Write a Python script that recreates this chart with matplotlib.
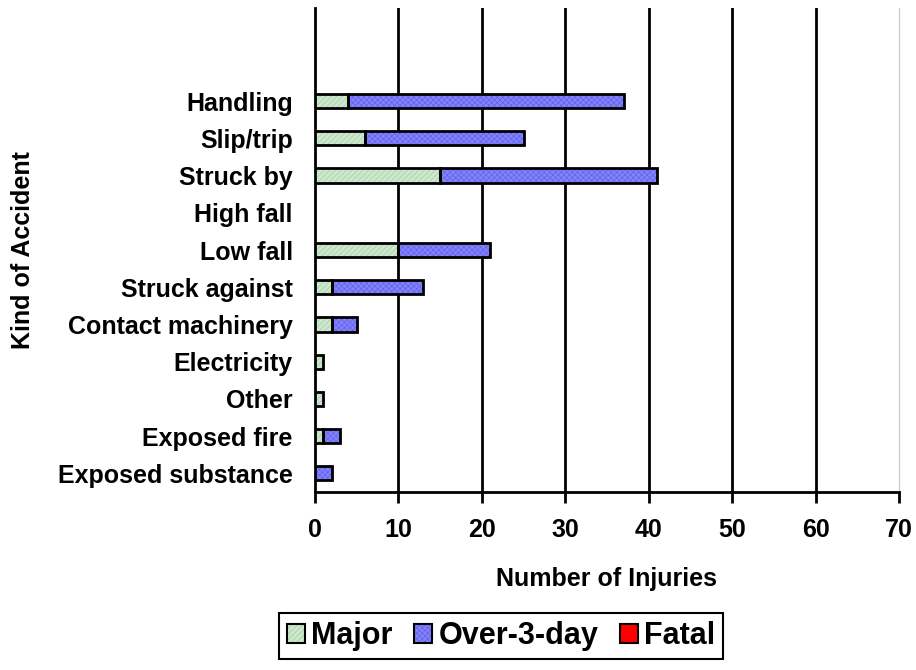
import matplotlib
matplotlib.use('Agg')
import matplotlib.pyplot as plt
from matplotlib.patches import Patch

# data, top to bottom as in the chart
kinds = ['Handling', 'Slip/trip', 'Struck by', 'High fall', 'Low fall',
         'Struck against', 'Contact machinery', 'Electricity', 'Other',
         'Exposed fire', 'Exposed substance']
major = [4, 6, 15, 0, 10, 2, 2, 1, 1, 1, 0]
over3 = [33, 19, 26, 0, 11, 11, 3, 0, 0, 2, 2]
fatal = [0, 0, 0, 0, 0, 0, 0, 0, 0, 0, 0]

series = [('Major', major, '#cce8cc', '#9cc49c', '//////'),
          ('Over-3-day', over3, '#8282ff', '#5c5ce0', 'xxxxxx'),
          ('Fatal', fatal, '#ff0000', '#ff0000', None)]

plt.rcParams['font.family'] = 'Liberation Sans'
plt.rcParams['font.weight'] = 'bold'
plt.rcParams['hatch.linewidth'] = 0.4

fig = plt.figure(figsize=(9.16, 6.70), dpi=100)
ax = fig.add_axes([315/916, 1 - 492/670, 584/916, 484/670])

ypos = list(range(len(kinds) - 1, -1, -1))
left = [0] * len(kinds)
handles = []
for name, vals, col, hcol, hatch in series:
    for y, v, l in zip(ypos, vals, left):
        if v <= 0:
            continue
        ax.barh(y, v, left=l, height=0.38, color=col, edgecolor=hcol,
                hatch=hatch, linewidth=0, zorder=3)
        ax.barh(y, v, left=l, height=0.38, fill=False, edgecolor='black',
                linewidth=2, zorder=4)
    left = [a + b for a, b in zip(left, vals)]
    handles.append((Patch(facecolor=col, edgecolor=hcol, hatch=hatch, linewidth=0),
                    Patch(fill=False, edgecolor='black', linewidth=1.5)))

for xv in range(10, 70, 10):
    ax.axvline(xv, color='black', linewidth=2, zorder=1)

ax.set_xlim(0, 70)
ax.set_ylim(-0.5, 12.5)
ax.set_xticks(range(0, 80, 10))
ax.set_yticks(ypos)
ax.set_yticklabels(kinds)
ax.tick_params(axis='y', length=0, pad=16, labelsize=18)
ax.tick_params(axis='x', length=8, width=2, pad=11, labelsize=18, direction='out')

ax.spines['top'].set_visible(False)
ax.spines['right'].set_color('#c8c8c8')
ax.spines['left'].set_linewidth(2)
ax.spines['bottom'].set_linewidth(2)

ax.set_xlabel('Number of Injuries', fontsize=18, fontweight='bold')
ax.set_ylabel('Kind of Accident', fontsize=18, fontweight='bold')
ax.xaxis.set_label_coords(0.5, -0.155)
ax.yaxis.set_label_coords(-0.48, 0.5)

leg = fig.legend(handles, [s[0] for s in series], loc='center',
                 bbox_to_anchor=(501/916, 1 - 636/670), ncol=3,
                 fontsize=22, handlelength=0.6, handleheight=0.6,
                 handletextpad=0.2, columnspacing=0.7, borderpad=0.25,
                 borderaxespad=0, fancybox=False, framealpha=1)
leg.get_frame().set_edgecolor('black')
leg.get_frame().set_linewidth(1.5)

fig.savefig('out.png', dpi=100)
